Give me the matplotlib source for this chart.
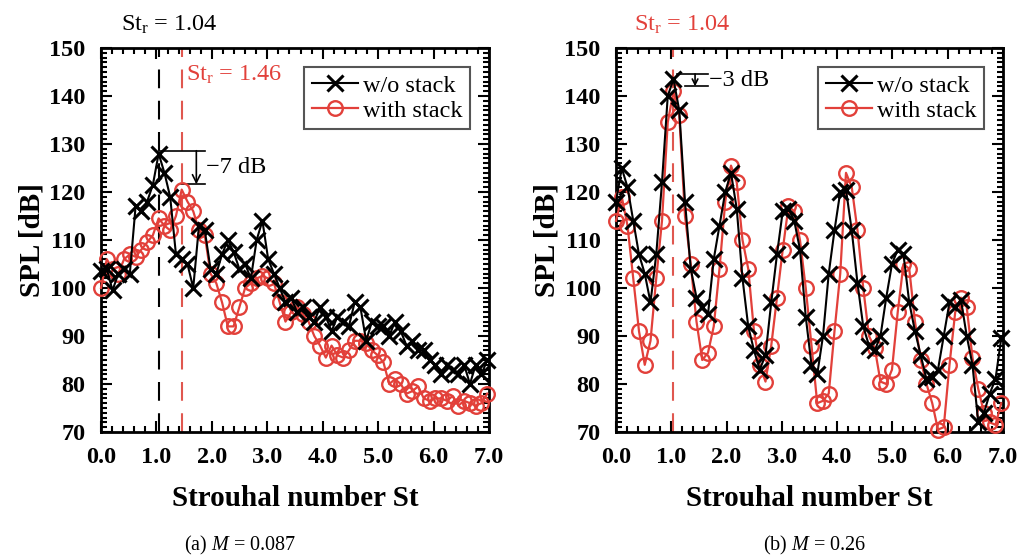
import numpy as np
import matplotlib
matplotlib.use("Agg")
import matplotlib.pyplot as plt
from matplotlib.ticker import MultipleLocator, FormatStrFormatter

plt.rcParams['font.family'] = ['Liberation Serif', 'DejaVu Serif']
plt.rcParams['mathtext.fontset'] = 'custom'
plt.rcParams['mathtext.rm'] = 'Liberation Serif'
plt.rcParams['mathtext.it'] = 'Liberation Serif:italic'
plt.rcParams['mathtext.bf'] = 'Liberation Serif:bold'

# ---------------- data ----------------
st_step = 0.104
n_pts = 68
st = np.arange(n_pts) * st_step

# (a) M = 0.087
a_wo = [103.5, 104, 99.5, 103, 104, 103, 117, 116, 118, 121.5,
        128, 124, 119, 107, 106, 105, 100, 113, 112, 104,
        103, 107, 110, 107.5, 104, 105, 102, 110, 114, 106,
        103, 100, 97, 98, 95, 96, 94, 93, 96, 94,
        91, 94, 93, 92, 97, 96, 89, 93, 92, 92,
        90, 93, 91, 88, 89, 87, 87, 85, 84, 82,
        84, 83, 82, 84, 80, 84, 82, 85]
a_with = [100, 106, 104, 103, 106, 107, 106.5, 108, 109.5, 111,
          114.5, 113, 112, 115, 120.5, 118, 116, 112, 111, 103,
          101, 97, 92, 92, 96, 100, 101, 102, 102.5, 102,
          101, 97, 93, 95, 96, 94.5, 93, 90, 88, 85.5,
          88, 86, 85.5, 87, 89, 89, 88.5, 87, 86, 84.5,
          80, 81, 80, 78, 78.5, 79.5, 77, 76.5, 77, 77,
          76.5, 77.5, 75.5, 76.5, 76, 75.5, 76, 78]

# (b) M = 0.26
b_wo = [118, 125, 121, 114, 107, 103, 97, 107, 122, 140,
        143.5, 137, 118, 104, 98, 96, 94.5, 106, 113, 120,
        124, 116.5, 102, 92, 87, 83, 86, 97, 107, 116,
        116.5, 114, 108, 94, 84, 82, 90, 103, 112, 120,
        120.5, 112, 101, 92, 88, 87, 90, 98, 105, 108,
        107, 97, 91, 86, 81, 81.5, 83, 90, 97, 96,
        97.5, 90, 84, 72, 74, 78, 81, 89.5]
b_with = [114, 119, 113, 102, 91, 84, 89, 102, 114, 134.5,
          141, 136, 115, 105, 93, 85, 86.5, 92, 104, 118,
          125.5, 122, 110, 104, 91, 84, 80.5, 88, 98, 108,
          117, 116, 110, 100, 88, 76, 76.5, 78, 91, 103,
          124, 121, 112, 100, 90, 87.5, 80.5, 80, 83, 95,
          105, 104, 93, 85, 80, 76, 70.5, 71, 84, 95,
          98, 96, 85.5, 79, 74, 72, 71.5, 76]

series_labels = ["w/o stack", "with stack"]
xticks = [0.0, 1.0, 2.0, 3.0, 4.0, 5.0, 6.0, 7.0]
yticks = [70, 80, 90, 100, 110, 120, 130, 140, 150]
captions = ["(a) $M$ = 0.087", "(b) $M$ = 0.26"]

RED = '#e2403a'
RED_DASH = '#e0574f'

fig = plt.figure(figsize=(10.23, 5.55), dpi=100)
axA = fig.add_axes([101/1023, 1-432/555, 388/1023, 384/555])
axB = fig.add_axes([616/1023, 1-432/555, 387/1023, 384/555])


def style(ax):
    ax.set_xlim(0, 7)
    ax.set_ylim(70, 150)
    ax.set_xticks(xticks)
    ax.set_yticks(yticks)
    ax.xaxis.set_major_formatter(FormatStrFormatter('%.1f'))
    ax.xaxis.set_minor_locator(MultipleLocator(0.2))
    ax.yaxis.set_minor_locator(MultipleLocator(1))
    ax.tick_params(which='both', direction='in', top=True, right=True, width=1.5)
    ax.tick_params(which='major', length=8)
    ax.tick_params(which='minor', length=4.5)
    ax.tick_params(axis='x', which='major', pad=11)
    ax.tick_params(axis='y', which='major', pad=11)
    for lab in ax.get_xticklabels() + ax.get_yticklabels():
        lab.set_fontweight('bold')
        lab.set_fontsize(17.5)
    for s in ax.spines.values():
        s.set_linewidth(2)
    ax.set_xlabel("Strouhal number St", fontsize=21, fontweight='bold', labelpad=12)
    ax.set_ylabel("SPL [dB]", fontsize=21, fontweight='bold', labelpad=3)


def draw(ax, wo, wi):
    ax.plot(st, wo, color='black', lw=1.5, marker='x', ms=11.5, mew=2.2,
            label=series_labels[0], zorder=4, clip_on=False)
    ax.plot(st, wi, color=RED, lw=1.6, marker='o', ms=10.5, mew=1.7,
            mfc='none', label=series_labels[1], zorder=3, clip_on=False)
    leg = ax.legend(loc='upper right', fontsize=17.5, frameon=True, fancybox=False,
                    edgecolor='#555555', framealpha=1, handlelength=1.9,
                    handletextpad=0.2, borderpad=0.3, labelspacing=0.12,
                    borderaxespad=0.8)
    leg.get_frame().set_linewidth(1.5)


# ---- panel (a)
style(axA)
draw(axA, a_wo, a_with)
axA.axvline(1.04, color='black', lw=1.5, dashes=(9, 6), zorder=2)
axA.axvline(1.46, color=RED_DASH, lw=1.5, dashes=(9, 6), zorder=2)
axA.text(1.24, 152.5, "St$_{\\mathrm{r}}$ = 1.04", fontsize=17.5, ha='center', va='bottom',
         color='black')
axA.text(1.53, 144.5, "St$_{\\mathrm{r}}$ = 1.46", fontsize=17.5, ha='left', va='center',
         color=RED)
axA.plot([1.04, 1.88], [128.6, 128.6], color='black', lw=1.2)
axA.plot([1.45, 1.88], [121.6, 121.6], color='black', lw=1.2)
axA.annotate("", xy=(1.72, 121.6), xytext=(1.72, 128.6),
             arrowprops=dict(arrowstyle='->', color='black', lw=1.2,
                             mutation_scale=14, shrinkA=0, shrinkB=0))
axA.text(1.9, 125.0, "\u22127 dB", fontsize=17.5, ha='left', va='center')

# ---- panel (b)
style(axB)
draw(axB, b_wo, b_with)
axB.axvline(1.04, color=RED_DASH, lw=1.5, dashes=(9, 6), zorder=2)
axB.text(1.19, 152.5, "St$_{\\mathrm{r}}$ = 1.04", fontsize=17.5, ha='center', va='bottom',
         color=RED)
axB.plot([1.10, 1.66], [144.6, 144.6], color='black', lw=1.2)
axB.plot([1.25, 1.66], [142.0, 142.0], color='black', lw=1.2)
axB.annotate("", xy=(1.43, 142.0), xytext=(1.43, 144.6),
             arrowprops=dict(arrowstyle='->', color='black', lw=1.2,
                             mutation_scale=10, shrinkA=0, shrinkB=0))
axB.text(1.68, 143.3, "\u22123 dB", fontsize=17.5, ha='left', va='center')

fig.text(240/1023, 1-545/555, captions[0], fontsize=14.5, ha='center', va='center')
fig.text(815/1023, 1-545/555, captions[1], fontsize=14.5, ha='center', va='center')

fig.savefig("out.png", dpi=100)
